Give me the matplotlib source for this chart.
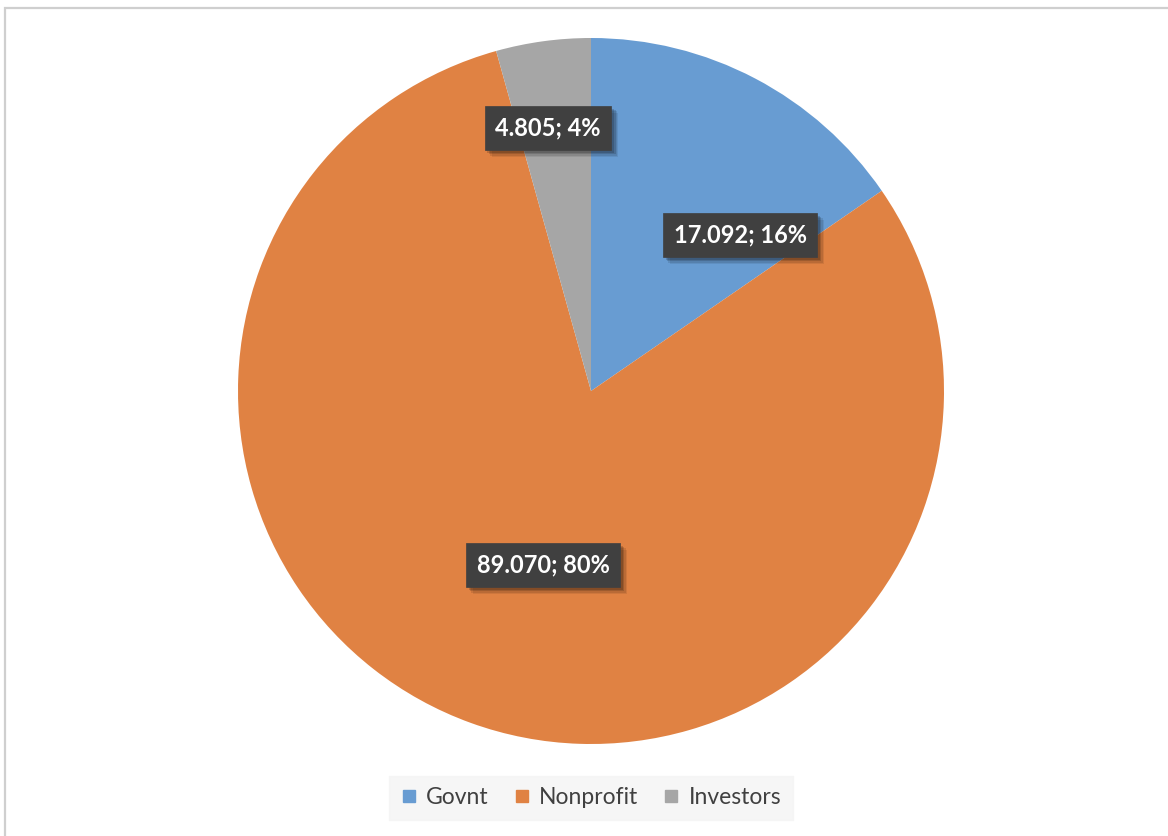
import matplotlib
matplotlib.use("Agg")
import matplotlib.pyplot as plt
import matplotlib.patheffects as pe
from matplotlib.lines import Line2D
from matplotlib.patches import Rectangle

# Funding sources
categories = ["Govnt", "Nonprofit", "Investors"]
values = [17.092, 89.070, 4.805]
share_labels = ["16%", "80%", "4%"]
colors = ["#689CD2", "#E08243", "#A6A6A6"]

W, H = 1168, 836
fig = plt.figure(figsize=(W / 100, H / 100), dpi=100)
fig.patch.set_facecolor("white")

# Chart-area frame
fig.add_artist(Rectangle((5 / W, -0.1), 1.2, 1.1 - 8 / H, transform=fig.transFigure,
                         fill=False, edgecolor="#CFCFCF", linewidth=1.6))

ax = fig.add_axes([0, 0, 1, 1])
cx, cy, r = 591, H - 391, 353
ax.pie(values, colors=colors, startangle=90, counterclock=False,
       center=(cx, cy), radius=r, frame=True, wedgeprops=dict(linewidth=0))
ax.set_xlim(0, W)
ax.set_ylim(0, H)
ax.set_aspect("equal")
ax.axis("off")

# Data labels: value; share, in dark boxes with a soft drop shadow
label_xy = [(740, H - 235), (543, H - 565), (548, H - 128)]
shadow = [pe.SimplePatchShadow(offset=(o, -o), shadow_rgbFace="black", alpha=a)
          for o, a in [(5, 0.08), (4, 0.10), (3, 0.14), (2, 0.16)]]
for (x, y), v, s in zip(label_xy, values, share_labels):
    t = ax.text(x, y, f"{v:.3f}; {s}", ha="center", va="center", fontsize=17,
                fontweight="bold", family="Lato", color="white",
                bbox=dict(boxstyle="square,pad=0.45", facecolor="#404040",
                          edgecolor="#404040", linewidth=0.5))
    t.get_bbox_patch().set_path_effects(shadow + [pe.Normal()])

handles = [Line2D([], [], marker="s", linestyle="none", markersize=9,
                  markerfacecolor=c, markeredgecolor=c) for c in colors]
leg = fig.legend(handles, categories, loc="center", bbox_to_anchor=(591 / W, 1 - 798 / H),
                 ncol=3, frameon=True, fancybox=False, facecolor="#F4F4F4",
                 edgecolor="#F4F4F4", prop=dict(family="Lato", size=16.5),
                 handlelength=0.7, handletextpad=0.4, columnspacing=1.1,
                 borderpad=0.5)
for txt in leg.get_texts():
    txt.set_color("#404040")

fig.savefig("out.png", dpi=100, facecolor="white")
